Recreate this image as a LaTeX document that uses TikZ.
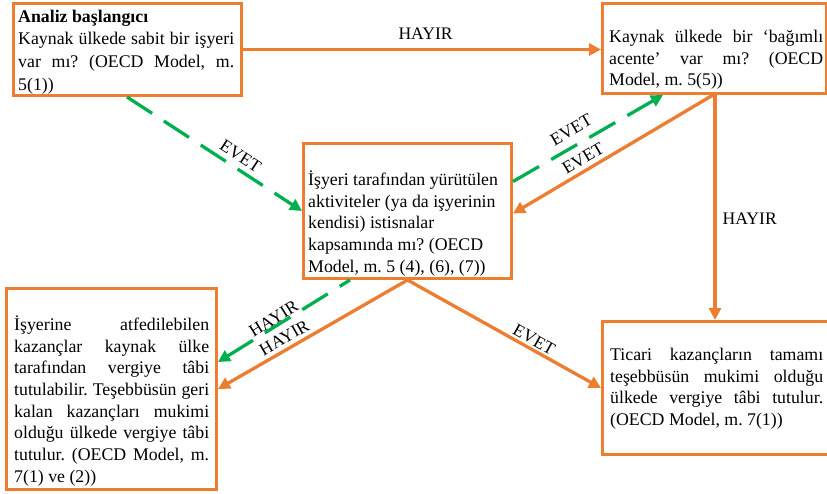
\documentclass[tikz,border=0pt]{standalone}
\usepackage{fontspec}
\setmainfont{Liberation Serif}
\usetikzlibrary{arrows.meta}
\definecolor{ora}{HTML}{ED7D31}
\definecolor{grn}{HTML}{00B050}
\newcommand\jline[2]{\makebox[#1][s]{#2}}
\frenchspacing
\begin{document}
\begin{tikzpicture}[x=1pt,y=-1pt,
  box/.style={draw=ora,line width=3pt,inner sep=0pt,anchor=north west,rectangle},
  txt/.style={anchor=north west,inner sep=0pt,align=left,font=\fontsize{17.8}{21.7}\selectfont\frenchspacing},
  oline/.style={draw=ora,line width=3.3pt},
  gline/.style={draw=grn,line width=3.3pt,dash pattern=on 30pt off 14pt},
  tipend/.style={-{Triangle[length=12pt,width=12pt]}},
  tipstart/.style={{Triangle[length=12pt,width=12pt]}-},
  lab/.style={font=\fontsize{17.6}{21.7}\selectfont,inner sep=0pt,text=black},
]
\useasboundingbox (0,0) rectangle (827,493);
\fill[white] (0,0) rectangle (827,493);
% boxes
\node[box,minimum width=228pt,minimum height=92pt] (b1) at (12,2) {};
\node[box,minimum width=224pt,minimum height=90pt] (b2) at (601,2) {};
\node[box,minimum width=208pt,minimum height=135pt] (b3) at (302,142) {};
\node[box,minimum width=210pt,minimum height=201pt] (b4) at (5,287) {};
\node[box,minimum width=234pt,minimum height=133pt] (b5) at (601,320) {};
% texts
\node[txt,font=\fontsize{17.8}{22.7}\selectfont] (t1) at (18,6) {\strut\textbf{Analiz başlangıcı}\\
\jline{216pt}{Kaynak ülkede sabit bir işyeri}\\
\jline{216pt}{var mı? (OECD Model, m.}\\
5(1))};
\node[txt] (t2) at (609,27) {\strut\jline{214pt}{Kaynak ülkede bir ‘bağımlı}\\
\jline{214pt}{acente’ var mı? (OECD}\\
Model, m. 5(5))};
\node[txt] (t3) at (308,170) {\strut İşyeri tarafından yürütülen\\
aktiviteler (ya da işyerinin\\
kendisi) istisnalar\\
kapsamında mı? (OECD\\
Model, m. 5 (4), (6), (7))};
\node[txt] (t4) at (14,315) {\strut\jline{195pt}{İşyerine atfedilebilen}\\
\jline{195pt}{kazançlar kaynak ülke}\\
\jline{195pt}{tarafından vergiye tâbi}\\
\jline{195pt}{tutulabilir. Teşebbüsün geri}\\
\jline{195pt}{kalan kazançları mukimi}\\
\jline{195pt}{olduğu ülkede vergiye tâbi}\\
\jline{195pt}{tutulur. (OECD Model, m.}\\
7(1) ve (2))};
\node[txt] (t5) at (610,345) {\strut\jline{213pt}{Ticari kazançların tamamı}\\
\jline{213pt}{teşebbüsün mukimi olduğu}\\
\jline{213pt}{ülkede vergiye tâbi tutulur.}\\
(OECD Model, m. 7(1))};
% connectors
\draw[oline,tipend] (b1.east) -- (b1.east -| b2.west)
  node[lab,pos=0.51,above=8pt] (l1) {HAYIR};
\draw[gline,tipend] ([xshift=115pt]b1.south west) -- (b3.west)
  node[lab,sloped,pos=0.61,above=5pt] (l2) {EVET};
\draw[gline,tipend] ([yshift=29.5pt]b3.east) -- ([xshift=62pt]b2.south west)
  node[lab,sloped,pos=0.44,above=8pt] (l3) {EVET};
\draw[oline,tipstart] ([yshift=-2.5pt]b3.east) -- ([xshift=112pt]b2.south west)
  node[lab,sloped,pos=0.38,above=4pt] (l4) {EVET};
\coordinate (p) at ([xshift=114pt]b2.south west);
\draw[oline,tipend] (p) -- (p |- b5.north)
  node[lab,pos=0.55,right=6pt] (l5) {HAYIR};
\draw[oline,tipstart] (b4.east) -- (b3.south)
  node[lab,sloped,pos=0.38,above=4pt] (l6) {HAYIR};
\draw[gline,tipstart] ([yshift=27pt]b4.east) -- ([xshift=48pt]b3.south west)
  node[lab,sloped,pos=0.45,above=0pt] (l7) {HAYIR};
\draw[oline,tipend] (b3.south) -- (b5.west)
  node[lab,sloped,pos=0.63,above=2pt] (l8) {EVET};
\end{tikzpicture}
\end{document}
